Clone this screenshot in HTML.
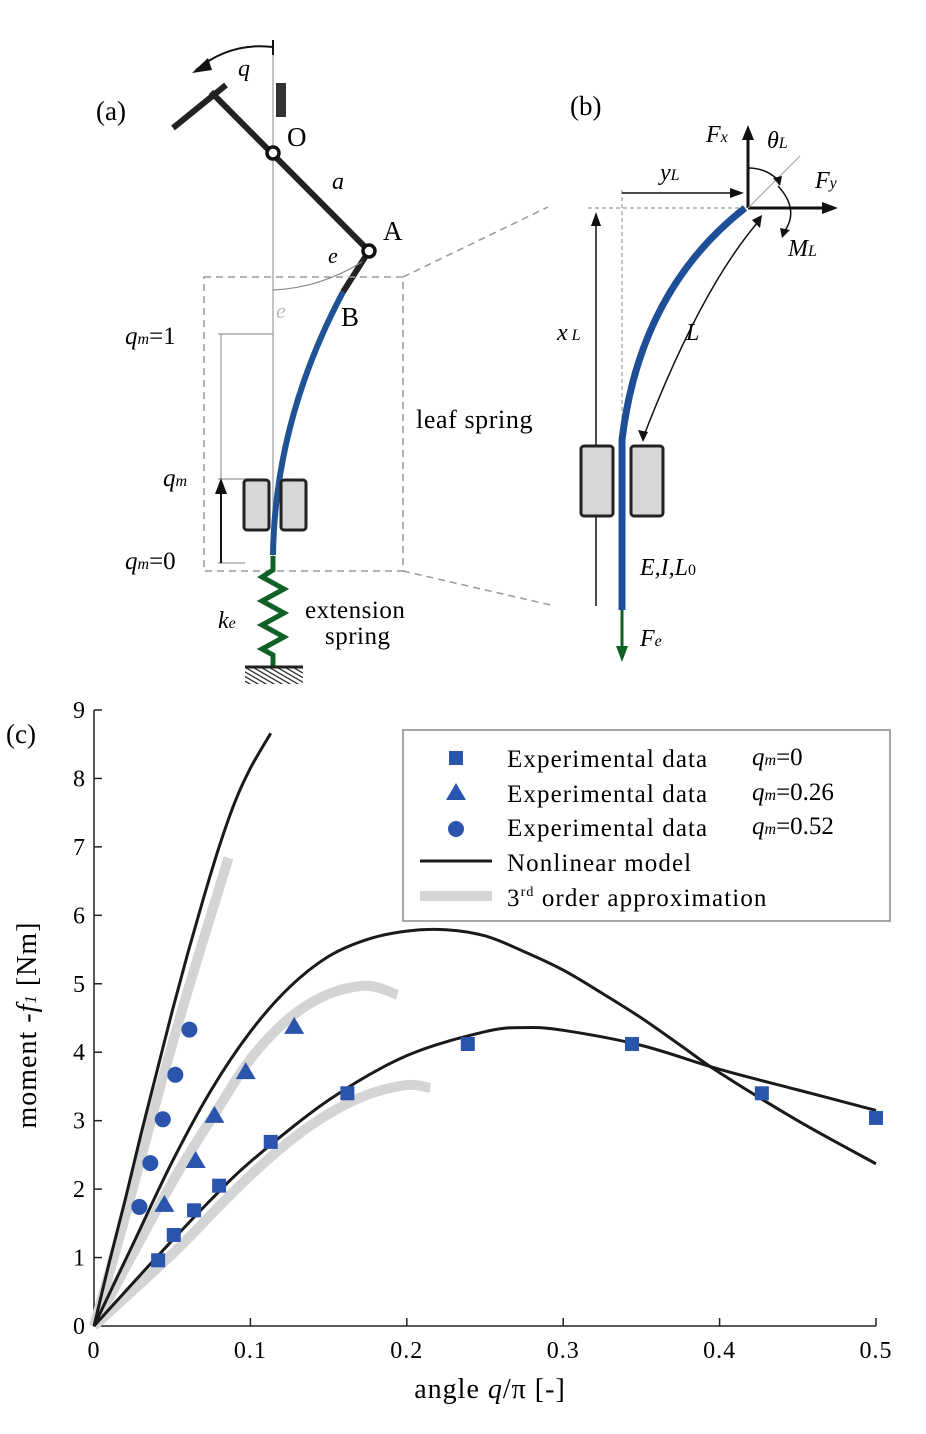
<!DOCTYPE html>
<html><head><meta charset="utf-8"><style>
body{margin:0;background:#fff}
svg{display:block;font-family:"Liberation Serif",serif}
</style></head><body>
<svg width="926" height="1434" viewBox="0 0 926 1434">
<defs><pattern id="hatch" width="4" height="4" patternUnits="userSpaceOnUse" patternTransform="rotate(-60)"><rect width="4" height="4" fill="#fff"/><line x1="0" y1="0" x2="0" y2="4" stroke="#222" stroke-width="2.4"/></pattern></defs>
<g>
<text x="96" y="120" font-size="27">(a)</text>
<line x1="273" y1="42" x2="273" y2="560" stroke="#999" stroke-width="1.2"/>
<path d="M273 47 Q230 42 196 70" fill="none" stroke="#111" stroke-width="2"/>
<polygon points="192,73 208,58 212,70" fill="#111"/>
<line x1="273" y1="40" x2="273" y2="55" stroke="#111" stroke-width="2"/>
<text x="238" y="76" font-size="24" font-style="italic">q</text>
<rect x="276" y="83" width="10" height="34" fill="#333"/>
<line x1="173" y1="128" x2="226" y2="85" stroke="#222" stroke-width="6"/>
<line x1="211" y1="92" x2="369" y2="251" stroke="#222" stroke-width="6"/>
<line x1="369" y1="251" x2="343" y2="292" stroke="#222" stroke-width="6"/>
<circle cx="273" cy="153" r="6" fill="#fff" stroke="#111" stroke-width="3.5"/>
<circle cx="369" cy="251" r="6" fill="#fff" stroke="#111" stroke-width="3.5"/>
<text x="287" y="146" font-size="27">O</text>
<text x="332" y="189" font-size="24" font-style="italic">a</text>
<text x="383" y="240" font-size="27">A</text>
<text x="341" y="326" font-size="27">B</text>
<text x="328" y="263" font-size="22" font-style="italic">e</text>
<text x="276" y="318" font-size="22" font-style="italic" fill="#bbb">e</text>
<path d="M273 290 Q320 288 362 262" fill="none" stroke="#888" stroke-width="1.2"/>
<path d="M343 292 Q275 420 273 555" fill="none" stroke="#1f5395" stroke-width="6"/>
<rect x="204" y="277" width="199" height="294" fill="none" stroke="#999" stroke-width="1.5" stroke-dasharray="7,5"/>
<line x1="403" y1="277" x2="548" y2="207" stroke="#999" stroke-width="1.5" stroke-dasharray="7,5"/>
<line x1="403" y1="571" x2="555" y2="606" stroke="#999" stroke-width="1.5" stroke-dasharray="7,5"/>
<line x1="218" y1="334" x2="273" y2="334" stroke="#999" stroke-width="1.2"/>
<line x1="221" y1="334" x2="221" y2="563" stroke="#999" stroke-width="1.2"/>
<line x1="218" y1="479" x2="262" y2="479" stroke="#999" stroke-width="1.2"/>
<line x1="218" y1="563" x2="245" y2="563" stroke="#999" stroke-width="1.2"/>
<line x1="221" y1="563" x2="221" y2="490" stroke="#111" stroke-width="2"/>
<polygon points="215,494 227,494 221,478" fill="#111"/>
<text x="125" y="344" font-size="25"><tspan font-style="italic">q</tspan><tspan font-size="16" font-style="italic">m</tspan>=1</text>
<text x="163" y="486" font-size="25"><tspan font-style="italic">q</tspan><tspan font-size="16" font-style="italic">m</tspan></text>
<text x="125" y="569" font-size="25"><tspan font-style="italic">q</tspan><tspan font-size="16" font-style="italic">m</tspan>=0</text>
<rect x="244" y="480" width="25" height="50" rx="3" fill="#d6d7d9" stroke="#222" stroke-width="3"/>
<rect x="281" y="480" width="25" height="50" rx="3" fill="#d6d7d9" stroke="#222" stroke-width="3"/>
<path d="M273 556 L273 570 L262 577 L284 589 L262 601 L284 613 L262 625 L284 637 L262 649 L273 655 L273 666" fill="none" stroke="#0f6128" stroke-width="5"/>
<rect x="245" y="666" width="58" height="18" fill="url(#hatch)"/>
<line x1="245" y1="667" x2="303" y2="667" stroke="#222" stroke-width="3"/>
<text x="218" y="628" font-size="24" font-style="italic">k<tspan font-size="16">e</tspan></text>
<text x="305" y="618" font-size="25" letter-spacing="0.5">extension</text>
<text x="325" y="644" font-size="25" letter-spacing="0.5">spring</text>
<text x="416" y="428" font-size="26" letter-spacing="0.6">leaf spring</text>
</g>
<g>
<text x="570" y="115" font-size="27">(b)</text>
<line x1="588" y1="208" x2="745" y2="208" stroke="#999" stroke-width="1.2" stroke-dasharray="4,3"/>
<line x1="622" y1="190" x2="622" y2="450" stroke="#999" stroke-width="1.2" stroke-dasharray="4,3"/>
<line x1="596" y1="606" x2="596" y2="218" stroke="#111" stroke-width="1.5"/>
<polygon points="591,226 601,226 596,212" fill="#111"/>
<line x1="622" y1="193" x2="732" y2="193" stroke="#111" stroke-width="1.5"/>
<polygon points="730,188 730,198 744,193" fill="#111"/>
<text x="660" y="180" font-size="24" font-style="italic">y<tspan font-size="16">L</tspan></text>
<text x="557" y="340" font-size="24" font-style="italic">x<tspan font-size="16"> L</tspan></text>
<path d="M745 208 Q640 290 622 440 L622 610" fill="none" stroke="#1f4e98" stroke-width="7"/>
<path d="M758 222 Q700 290 643 438" fill="none" stroke="#111" stroke-width="1.5"/>
<polygon points="638,430 648,432 643,442" fill="#111"/>
<polygon points="752,220 762,215 760,228" fill="#111"/>
<text x="686" y="340" font-size="24" font-style="italic">L</text>
<rect x="581" y="446" width="32" height="70" rx="3" fill="#d6d7d9" stroke="#222" stroke-width="3"/>
<rect x="631" y="446" width="32" height="70" rx="3" fill="#d6d7d9" stroke="#222" stroke-width="3"/>
<line x1="622" y1="610" x2="622" y2="650" stroke="#0f6128" stroke-width="3"/>
<polygon points="616,646 628,646 622,662" fill="#0f6128"/>
<text x="640" y="646" font-size="24" font-style="italic">F<tspan font-size="16">e</tspan></text>
<text x="640" y="575" font-size="24" font-style="italic">E,I,L<tspan font-size="16" font-style="normal">0</tspan></text>
<line x1="748" y1="208" x2="748" y2="135" stroke="#111" stroke-width="3"/>
<polygon points="742,140 754,140 748,125" fill="#111"/>
<line x1="748" y1="208" x2="825" y2="208" stroke="#111" stroke-width="3"/>
<polygon points="822,202 822,214 838,208" fill="#111"/>
<line x1="748" y1="208" x2="800" y2="156" stroke="#aaa" stroke-width="1.2"/>
<text x="706" y="142" font-size="24" font-style="italic">F<tspan font-size="16">x</tspan></text>
<text x="815" y="188" font-size="24" font-style="italic">F<tspan font-size="16">y</tspan></text>
<text x="767" y="148" font-size="24" font-style="italic">θ<tspan font-size="16">L</tspan></text>
<text x="788" y="256" font-size="24" font-style="italic">M<tspan font-size="16">L</tspan></text>
<path d="M778 186 Q800 210 784 232" fill="none" stroke="#111" stroke-width="1.5"/>
<polygon points="780,228 790,230 782,238" fill="#111"/>
<path d="M748 168 Q766 168 778 180" fill="none" stroke="#111" stroke-width="1.5"/>
<polygon points="773,178 782,176 780,186" fill="#111"/>
</g>
<text x="6" y="743" font-size="27">(c)</text>
<g id="chart"></g>
</svg>
<script>
const xTicks=[0,0.1,0.2,0.3,0.4,0.5];
const xTickLabels=["0","0.1","0.2","0.3","0.4","0.5"];
const yTicks=[0,1,2,3,4,5,6,7,8,9];
const sqX=[0.041,0.051,0.064,0.080,0.113,0.162,0.239,0.344,0.427,0.5];
const sqY=[0.96,1.33,1.69,2.05,2.69,3.40,4.12,4.12,3.40,3.04];
const triX=[0.045,0.065,0.077,0.097,0.128];
const triY=[1.77,2.41,3.07,3.71,4.37];
const cirX=[0.029,0.036,0.044,0.052,0.061];
const cirY=[1.74,2.38,3.02,3.67,4.33];
const m1X=[0,0.01,0.02,0.03,0.04,0.05,0.06,0.07,0.08,0.09,0.1,0.113];
const m1Y=[0,0.95,1.85,2.8,3.7,4.6,5.45,6.25,7.0,7.65,8.15,8.66];
const m2X=[0,0.025,0.05,0.075,0.1,0.125,0.15,0.175,0.2,0.225,0.25,0.275,0.3,0.325,0.35,0.375,0.4,0.45,0.5];
const m2Y=[0,1.2,2.4,3.45,4.3,4.95,5.4,5.65,5.77,5.79,5.7,5.47,5.2,4.86,4.5,4.1,3.7,3.0,2.37];
const m3X=[0,0.025,0.05,0.075,0.1,0.15,0.2,0.25,0.275,0.3,0.35,0.4,0.45,0.5];
const m3Y=[0,0.63,1.25,1.85,2.4,3.3,3.95,4.3,4.36,4.32,4.1,3.75,3.45,3.15];
const a1X=[0,0.02,0.04,0.06,0.086];
const a1Y=[0,1.6,3.3,4.9,6.84];
const a2X=[0,0.05,0.08,0.1,0.125,0.15,0.175,0.194];
const a2Y=[0,2.1,3.2,3.9,4.5,4.85,4.97,4.84];
const a3X=[0,0.05,0.08,0.1,0.125,0.15,0.175,0.2,0.215];
const a3Y=[0,1.05,1.75,2.2,2.7,3.1,3.38,3.52,3.48];
const NS="http://www.w3.org/2000/svg";
const X0=94,X1=876,Y0=1326,Y1=710;
const sx=v=>X0+(v/0.5)*(X1-X0);
const sy=v=>Y0-(v/9)*(Y0-Y1);
const g=document.getElementById('chart');
function mk(t,a,p){const e=document.createElementNS(NS,t);for(const k in a)e.setAttribute(k,a[k]);(p||g).appendChild(e);return e;}
let ax=mk('path',{d:`M${X0} ${Y1} L${X0} ${Y0} L${X1} ${Y0}`,fill:'none',stroke:'#222','stroke-width':1.5});


xTicks.forEach((t,i)=>{mk('line',{x1:sx(t),x2:sx(t),y1:Y0,y2:Y0-8,stroke:'#222','stroke-width':1.5});
 const tx=mk('text',{x:sx(t),y:Y0+32,'font-size':24,'text-anchor':'middle','letter-spacing':1});tx.textContent=xTickLabels[i];
 
 });
yTicks.forEach(t=>{mk('line',{x1:X0,x2:X0+8,y1:sy(t),y2:sy(t),stroke:'#222','stroke-width':1.5});
 const tx=mk('text',{x:X0-9,y:sy(t)+8,'font-size':24,'text-anchor':'end'});tx.textContent=t;
 
 });
const xt=mk('text',{x:490,y:1398,'font-size':28,'text-anchor':'middle','letter-spacing':1});
xt.innerHTML='angle <tspan font-style="italic">q</tspan>/π [-]';


const yt=mk('text',{x:0,y:0,'font-size':28,'text-anchor':'middle','letter-spacing':1,transform:'translate(36,1025) rotate(-90)'});
yt.innerHTML='moment -<tspan font-style="italic">f</tspan><tspan font-size="17" font-style="italic">1</tspan> [Nm]';


function smooth(P){let d=`M${P[0][0]} ${P[0][1]}`;
 for(let i=0;i<P.length-1;i++){const p0=P[Math.max(i-1,0)],p1=P[i],p2=P[i+1],p3=P[Math.min(i+2,P.length-1)];
  const c1=[p1[0]+(p2[0]-p0[0])/6,p1[1]+(p2[1]-p0[1])/6],c2=[p2[0]-(p3[0]-p1[0])/6,p2[1]-(p3[1]-p1[1])/6];
  d+=` C${c1[0]} ${c1[1]} ${c2[0]} ${c2[1]} ${p2[0]} ${p2[1]}`;}
 return d;}
function line(xs,ys,col,w,name){const P=xs.map((x,i)=>[sx(x),sy(ys[i])]);
 const p=mk('path',{d:smooth(P),fill:'none',stroke:col,'stroke-width':w,'stroke-linecap':'butt','stroke-linejoin':'round'});
 
 }
line(a1X,a1Y,'#d3d4d6',10,'approx-qm-052');
line(a2X,a2Y,'#d3d4d6',10,'approx-qm-026');
line(a3X,a3Y,'#d3d4d6',10,'approx-qm-0');
line(m1X,m1Y,'#1a1a1a',3,'model-qm-052');
line(m2X,m2Y,'#1a1a1a',3,'model-qm-026');
line(m3X,m3Y,'#1a1a1a',3,'model-qm-0');
const B='#2b55ad';
sqX.forEach((x,i)=>{const r=mk('rect',{x:sx(x)-7,y:sy(sqY[i])-7,width:14,height:14,fill:B});
 
 });
triX.forEach((x,i)=>{const cx=sx(x),cy=sy(triY[i]);const r=mk('polygon',{points:`${cx-10},${cy+7} ${cx+10},${cy+7} ${cx},${cy-10}`,fill:B});
 
 });
cirX.forEach((x,i)=>{const r=mk('circle',{cx:sx(x),cy:sy(cirY[i]),r:8,fill:B});
 
 });
const lg=mk('g',{});


mk('rect',{x:403,y:730,width:487,height:191,fill:'#fff',stroke:'#888','stroke-width':1.5},lg);
mk('rect',{x:449,y:751,width:14,height:14,fill:B},lg);
mk('polygon',{points:'446,800 466,800 456,783',fill:B},lg);
mk('circle',{cx:456,cy:829,r:8,fill:B},lg);
mk('line',{x1:420,x2:492,y1:861,y2:861,stroke:'#1a1a1a','stroke-width':3},lg);
mk('line',{x1:420,x2:492,y1:896,y2:896,stroke:'#d3d4d6','stroke-width':10},lg);
const labs=['Experimental data','Experimental data','Experimental data','Nonlinear model','3<tspan font-size="14" dy="-10">rd</tspan><tspan dy="10"> order approximation</tspan>'];
const qlabs=['=0','=0.26','=0.52'];
const ly=[767,802,836,871,906];
labs.forEach((t,i)=>{const e=mk('text',{x:507,y:ly[i],'font-size':25,'letter-spacing':1.1},lg);e.innerHTML=t;
 
 });
qlabs.forEach((t,i)=>{const e=mk('text',{x:752,y:ly[i]-2,'font-size':25},lg);
 e.innerHTML='<tspan font-style="italic">q</tspan><tspan font-size="16" font-style="italic">m</tspan>'+t;
 
 });
</script>
</body></html>
